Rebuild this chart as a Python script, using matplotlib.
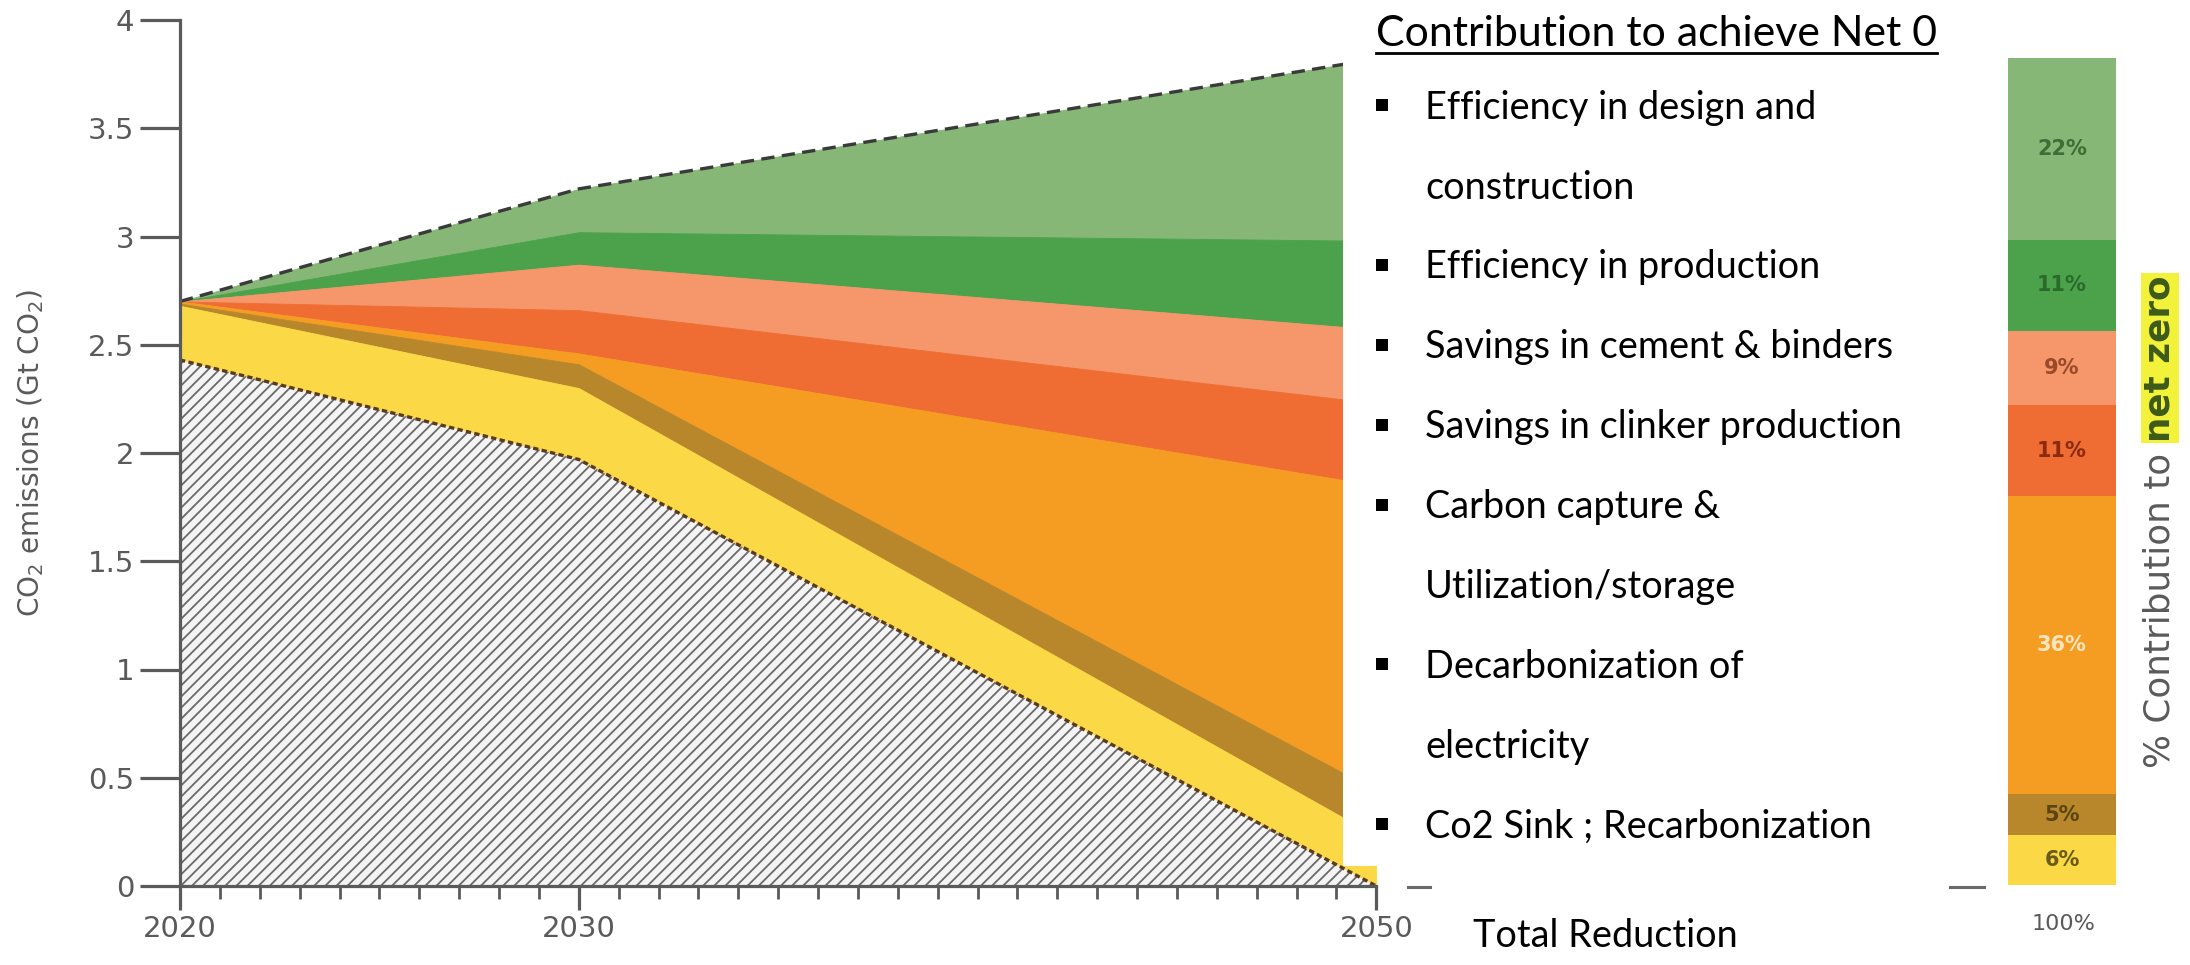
import matplotlib
matplotlib.use("Agg")
import matplotlib.pyplot as plt
from matplotlib.patches import Rectangle
from matplotlib.lines import Line2D

# ---------------- data ----------------
years = [2020, 2030, 2050]
# stacked boundaries of the abatement wedges (Gt CO2), from top to bottom
bau = [2.70, 3.22, 3.82]
after_design = [2.70, 3.02, 2.98]
after_production = [2.70, 2.87, 2.57]
after_cement = [2.70, 2.66, 2.23]
after_clinker = [2.70, 2.46, 1.85]
after_ccus = [2.69, 2.41, 0.44]
after_electricity = [2.68, 2.30, 0.23]
residual = [2.43, 1.97, 0.00]

major_years = [2020, 2030, 2050]
y_ticks = [0, 0.5, 1, 1.5, 2, 2.5, 3, 3.5, 4]
y_tick_labels = ["0", "0.5", "1", "1.5", "2", "2.5", "3", "3.5", "4"]

# contribution bar, bottom to top
bar_pct = [6, 5, 36, 11, 9, 11, 22]
bar_labels = ["6%", "5%", "36%", "11%", "9%", "11%", "22%"]

legend_title = "Contribution to achieve Net 0"
legend_lines = [
    ("Efficiency in design and", True),
    ("construction", False),
    ("Efficiency in production", True),
    ("Savings in cement & binders", True),
    ("Savings in clinker production", True),
    ("Carbon capture &", True),
    ("Utilization/storage", False),
    ("Decarbonization of", True),
    ("electricity", False),
    ("Co2 Sink ; Recarbonization", True),
]

# ---------------- style ----------------
c_design = "#86b777"
c_prod = "#4ba24b"
c_cement = "#f5976b"
c_clinker = "#ef6c33"
c_ccus = "#f59c23"
c_elec = "#b8872c"
c_sink = "#fbd946"
bar_colors = [c_sink, c_elec, c_ccus, c_clinker, c_cement, c_prod, c_design]
bar_text_colors = ["#6b5a18", "#5a4412", "#fde6bd", "#8a2a0e", "#9a4a28", "#2c6a2c", "#3d6e35"]
axis_gray = "#5a5a5a"

W, H, DPI = 2190, 965, 100
plt.rcParams["hatch.linewidth"] = 1.3
fig = plt.figure(figsize=(W / DPI, H / DPI), dpi=DPI)
fig.patch.set_facecolor("white")


def fx(px):
    return px / W


def fy(py):
    return 1 - py / H


# ---------------- main area chart ----------------
ax = fig.add_axes([fx(180), fy(886), fx(1456 - 180), (886 - 20) / H])
ax.set_xlim(2020, 2052)
ax.set_ylim(0, 4)

edge = dict(linewidth=0.6)
ax.fill_between(years, after_design, bau, color=c_design, **edge)
ax.fill_between(years, after_production, after_design, color=c_prod, **edge)
ax.fill_between(years, after_cement, after_production, color=c_cement, **edge)
ax.fill_between(years, after_clinker, after_cement, color=c_clinker, **edge)
ax.fill_between(years, after_ccus, after_clinker, color=c_ccus, **edge)
ax.fill_between(years, after_electricity, after_ccus, color=c_elec, **edge)
ax.fill_between(years, residual, after_electricity, color=c_sink, **edge)
ax.fill_between(years, 0, residual, facecolor="#f4f4f4", edgecolor="#6a6a6a",
                hatch="///", linewidth=0)

ax.plot(years, bau, color="#3a3a3a", lw=2.4, ls=(0, (4, 2.2)))
ax.plot(years, residual, color="#5a3b1e", lw=2.4, ls=(0, (1.6, 1.0)))

for s in ("top", "right"):
    ax.spines[s].set_visible(False)
for s in ("left", "bottom"):
    ax.spines[s].set_color(axis_gray)
    ax.spines[s].set_linewidth(2.3)
ax.spines["left"].set_bounds(0, 4)
ax.spines["bottom"].set_bounds(2020, 2050)

ax.set_yticks(y_ticks)
ax.set_yticklabels(y_tick_labels)
ax.set_xticks(major_years)
ax.set_xticklabels([str(y) for y in major_years])
ax.set_xticks([y for y in range(2021, 2050) if y not in major_years], minor=True)
ax.tick_params(axis="y", direction="out", length=29, width=2.3, color=axis_gray,
               labelcolor=axis_gray, labelsize=21, pad=4)
ax.tick_params(axis="x", which="major", direction="out", length=17, width=2.3,
               color=axis_gray, labelcolor=axis_gray, labelsize=21, pad=4)
ax.tick_params(axis="x", which="minor", direction="out", length=9, width=2.0,
               color=axis_gray)

renderer = fig.canvas.get_renderer()


def fit_length(texts, target_px, vertical=False):
    total = 0.0
    for t in texts:
        bb = t.get_window_extent(renderer)
        total += bb.height if vertical else bb.width
    scale = target_px / total
    for t in texts:
        t.set_fontsize(t.get_fontsize() * scale)


ylab = fig.text(fx(31), fy(453), "CO$_2$ emissions (Gt CO$_2$)", rotation=90,
                ha="center", va="center", color=axis_gray, fontsize=15)
fit_length([ylab], 330, vertical=True)

# ---------------- legend panel ----------------
fig.add_artist(Rectangle((fx(1343), fy(866)), fx(1995 - 1343), 866 / H,
                         transform=fig.transFigure, facecolor="white",
                         edgecolor="none", zorder=5))

legend_font = ["Lato", "DejaVu Sans"]
title = fig.text(fx(1376), fy(46), legend_title, ha="left", va="baseline",
                 fontsize=28, family=legend_font, color="black", zorder=6)
fit_length([title], 563)
tb = title.get_window_extent(renderer)
fig.add_artist(Line2D([fx(tb.x0), fx(tb.x1)], [fy(53), fy(53)],
                      transform=fig.transFigure, color="black", lw=2.0, zorder=6))

# list entries share one size, set by the width of the longest entry
probe = fig.text(0, 0, "Savings in clinker production", fontsize=28,
                 family=legend_font)
fit_length([probe], 478)
fs = probe.get_fontsize()
probe.remove()
em_px = fs * DPI / 72

for i, (line, bullet) in enumerate(legend_lines):
    cy = 105 + 79.9 * i
    fig.text(fx(1425), fy(cy + 0.36 * em_px), line, ha="left", va="baseline",
             fontsize=fs, family=legend_font, color="black", zorder=6)
    if bullet:
        fig.add_artist(Rectangle((fx(1376), fy(cy + 6)), fx(12), 12 / H,
                                 transform=fig.transFigure, facecolor="black",
                                 edgecolor="none", zorder=6))

fig.text(fx(1473), fy(933 + 0.36 * em_px), "Total Reduction", ha="left",
         va="baseline", fontsize=fs, family=legend_font, color="black", zorder=6)

# short leftover axis strokes beside the panel
for x0, x1 in ((1408, 1430), (1950, 1984)):
    fig.add_artist(Line2D([fx(x0), fx(x1)], [fy(887), fy(887)],
                          transform=fig.transFigure, color="#6a6a6a", lw=2.2, zorder=6))

# ---------------- contribution bar ----------------
axb = fig.add_axes([fx(2008), fy(885), fx(108), 827 / H])
bottom = 0
for pct, col, lab, tcol in zip(bar_pct, bar_colors, bar_labels, bar_text_colors):
    axb.bar(0, pct, bottom=bottom, width=1.0, color=col, linewidth=0)
    axb.text(0, bottom + pct / 2, lab, ha="center", va="center", color=tcol,
             fontsize=15, fontweight="bold")
    bottom += pct
axb.set_xlim(-0.5, 0.5)
axb.set_ylim(0, 100)
axb.axis("off")

fig.text(fx(2063), fy(924), "100%", ha="center", va="center", color=axis_gray,
         fontsize=16)

lab1 = fig.text(fx(2160), fy(768), "% Contribution to ", rotation=90, ha="center",
                va="bottom", color=axis_gray, fontsize=16)
lab2 = fig.text(fx(2160), fy(400), "net zero", rotation=90, ha="center",
                va="bottom", color="#3d5a1a", fontsize=16, fontweight="bold")
fit_length([lab1, lab2], 495, vertical=True)
lab2.set_visible(False)
ax.annotate("net zero", xy=(0.5, 1.0), xycoords=lab1, ha="center", va="bottom",
            rotation=90, color="#3d5a1a", fontsize=lab2.get_fontsize(),
            fontweight="bold", annotation_clip=False,
            bbox=dict(boxstyle="square,pad=0.05", facecolor="#f2f23a",
                      edgecolor="none"))

fig.savefig("out.png", dpi=DPI, facecolor="white")
